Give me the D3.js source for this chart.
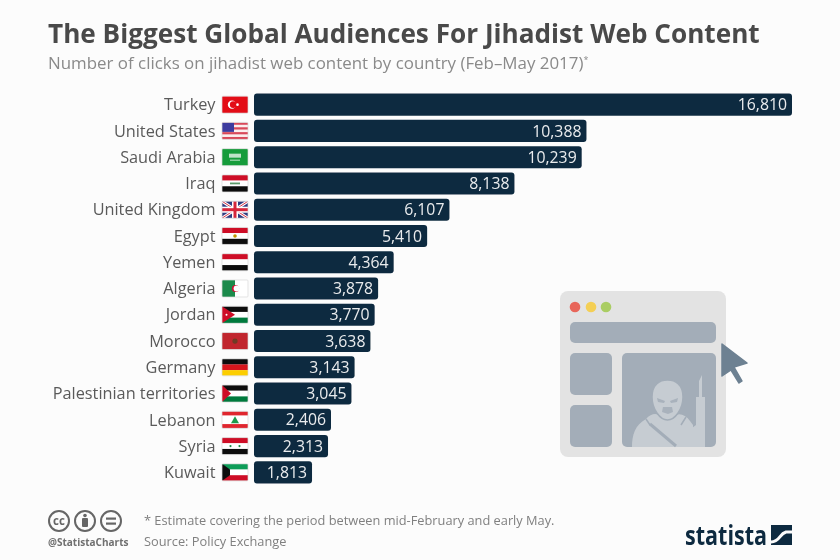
<!DOCTYPE html>
<html><head><meta charset="utf-8">
<script src="https://cdnjs.cloudflare.com/ajax/libs/d3/7.8.5/d3.min.js"></script>
<style>html,body{margin:0;padding:0;background:#fcfcfc}svg{display:block}text{font-family:"Open Sans",sans-serif}</style>
</head><body><svg id="c" width="840" height="560"></svg>
<script>
const countries = ["Turkey","United States","Saudi Arabia","Iraq","United Kingdom","Egypt","Yemen","Algeria","Jordan","Morocco","Germany","Palestinian territories","Lebanon","Syria","Kuwait"];
const clicks = [16810,10388,10239,8138,6107,5410,4364,3878,3770,3638,3143,3045,2406,2313,1813];
const flagCodes = ["TR","US","SA","IQ","GB","EG","YE","DZ","JO","MA","DE","PS","LB","SY","KW"];
const titleText = "The Biggest Global Audiences For Jihadist Web Content";
const subtitleText = "Number of clicks on jihadist web content by country (Feb–May 2017)";

const svg = d3.select("#c");
svg.append("rect").attr("width",840).attr("height",560).attr("fill","#fcfcfc");
const defs = svg.append("defs");
defs.append("filter").attr("id","soft").append("feGaussianBlur").attr("stdDeviation",0.45);

const x = d3.scaleLinear().domain([0,16810]).range([254,792]);
const y = d3.scaleBand().domain(countries).range([91.5,485.5]).paddingInner(0.16).paddingOuter(0.08);

const head = svg.append("g").attr("filter","url(#soft)");
head.append("text").attr("x",48).attr("y",43).attr("font-size",26.17).attr("font-weight",700).attr("fill","#4a4a4a").text(titleText);
const sub = head.append("text").attr("x",48).attr("y",68.5).attr("font-size",16.9).attr("fill","#8a8a8a").text(subtitleText);
sub.append("tspan").attr("font-size",9).attr("dy",-6).text("*");

const root = svg.append("g").attr("filter","url(#soft)");
const rows = root.selectAll("g.row").data(countries).join("g").attr("class","row");
rows.append("text").attr("x",215.5).attr("y",d=>y(d)+y.bandwidth()/2+5.7)
  .attr("text-anchor","end").attr("font-size",16.3).attr("fill","#5a5a5a").text(d=>d);
rows.append("rect").attr("x",x(0)).attr("y",d=>y(d)).attr("height",y.bandwidth())
  .attr("width",(d,i)=>x(clicks[i])-x(0)).attr("rx",3).attr("fill","#112b40");
rows.append("text").attr("x",(d,i)=>x(clicks[i])-5).attr("y",d=>y(d)+y.bandwidth()/2+5.6)
  .attr("text-anchor","end").attr("font-size",15.8).attr("fill","#e9ecee").text((d,i)=>d3.format(",")(clicks[i]));

// flags, in a 26x17 box
const W=26,H=17;
function bands(g,cols){const h=H/cols.length;cols.forEach((c,i)=>g.append("rect").attr("y",i*h).attr("width",W).attr("height",h+.1).attr("fill",c));}
const RED="#ce1126",BLK="#111",WHT="#fff",GRN="#007a3d";
const flagDraw={
 TR(g){bands(g,["#e30a17"]);g.append("circle").attr("cx",10).attr("cy",8.5).attr("r",4.2).attr("fill",WHT);g.append("circle").attr("cx",11.2).attr("cy",8.5).attr("r",3.3).attr("fill","#e30a17");g.append("circle").attr("cx",15.5).attr("cy",8.5).attr("r",1.3).attr("fill",WHT);},
 US(g){bands(g,["#d8495a","#fbeeee","#d8495a","#fbeeee","#d8495a","#fbeeee","#d8495a"]);g.append("rect").attr("width",12).attr("height",9.5).attr("fill","#3c3b9e");},
 SA(g){bands(g,["#159c3a"]);g.append("rect").attr("x",7).attr("y",5).attr("width",12).attr("height",4).attr("fill","#bfe3c8");g.append("rect").attr("x",8).attr("y",11).attr("width",10).attr("height",1).attr("fill","#bfe3c8");},
 IQ(g){bands(g,[RED,WHT,BLK]);g.append("rect").attr("x",8).attr("y",7.6).attr("width",10).attr("height",1.8).attr("fill","#5c9a6a");},
 GB(g){bands(g,["#2f3a80"]);[[0,0,W,H],[W,0,0,H]].forEach(l=>{g.append("line").attr("x1",l[0]).attr("y1",l[1]).attr("x2",l[2]).attr("y2",l[3]).attr("stroke",WHT).attr("stroke-width",3);g.append("line").attr("x1",l[0]).attr("y1",l[1]).attr("x2",l[2]).attr("y2",l[3]).attr("stroke","#d6384a").attr("stroke-width",1);});
  g.append("rect").attr("x",10).attr("width",6).attr("height",H).attr("fill",WHT);g.append("rect").attr("y",5.5).attr("width",W).attr("height",6).attr("fill",WHT);g.append("rect").attr("x",11.5).attr("width",3).attr("height",H).attr("fill","#d6253a");g.append("rect").attr("y",7).attr("width",W).attr("height",3).attr("fill","#d6253a");},
 EG(g){bands(g,[RED,WHT,BLK]);g.append("circle").attr("cx",13).attr("cy",8.5).attr("r",1.8).attr("fill","#c09300");},
 YE(g){bands(g,[RED,WHT,BLK]);},
 DZ(g){g.append("rect").attr("width",W).attr("height",H).attr("fill",WHT);g.append("rect").attr("width",13).attr("height",H).attr("fill","#1f8a4c");g.append("circle").attr("cx",13.5).attr("cy",8.5).attr("r",3.6).attr("fill","#d21034");g.append("circle").attr("cx",14.6).attr("cy",8.5).attr("r",3).attr("fill",WHT);},
 JO(g){bands(g,[BLK,WHT,GRN]);g.append("path").attr("d",`M0 0L13 ${H/2}L0 ${H}Z`).attr("fill",RED);g.append("circle").attr("cx",4.5).attr("cy",8.5).attr("r",1).attr("fill",WHT);},
 MA(g){bands(g,["#c1272d"]);g.append("circle").attr("cx",13).attr("cy",8.5).attr("r",2.6).attr("fill","#6f3a25");},
 DE(g){bands(g,["#111","#d8131a","#fcce00"]);},
 PS(g){bands(g,[BLK,WHT,GRN]);g.append("path").attr("d",`M0 0L9 ${H/2}L0 ${H}Z`).attr("fill",RED);},
 LB(g){bands(g,["#e0252f",WHT,WHT,"#e0252f"]);g.append("path").attr("d","M13 4.8L17 12H9Z").attr("fill","#1f9a4c");},
 SY(g){bands(g,[RED,WHT,BLK]);[8.5,17.5].forEach(c=>g.append("circle").attr("cx",c).attr("cy",8.5).attr("r",1.1).attr("fill","#1a8a44"));},
 KW(g){bands(g,["#0f9d58",WHT,"#ce1126"]);g.append("path").attr("d",`M0 0L8 ${H/3}V${2*H/3}L0 ${H}Z`).attr("fill",BLK);}
};
rows.each(function(d,i){
  const clip="f"+i;
  const top=y(d)+y.bandwidth()/2-8.5;
  defs.append("clipPath").attr("id",clip).append("rect").attr("width",W).attr("height",H).attr("rx",1);
  const outer=d3.select(this).append("g").attr("transform",`translate(222,${top})`);
  const g=outer.append("g").attr("clip-path",`url(#${clip})`);
  flagDraw[flagCodes[i]](g);
  outer.append("rect").attr("width",W).attr("height",H).attr("rx",1).attr("fill","none").attr("stroke","#d8d8d8").attr("stroke-width",0.7);
});

// browser illustration
const ill=svg.append("g").attr("transform","translate(550,285)").attr("filter","url(#soft)");
const P="#a3adb8";
const rr=(X,Y,w,h,r,f)=>ill.append("rect").attr("x",X).attr("y",Y).attr("width",w).attr("height",h).attr("rx",r).attr("fill",f);
rr(10,6,166,166,8,"#e3e3e3");
[[25,"#e8665a"],[41,"#f4cf55"],[56,"#aacd64"]].forEach(a=>ill.append("circle").attr("cx",a[0]).attr("cy",22).attr("r",5.3).attr("fill",a[1]));
rr(20,37,146,21,5,P);
rr(20,68,42,42,5,P);
rr(20,120,42,42,5,P);
rr(72,68,94,94,5,P);
const S="#c6ccd2";
ill.append("path").attr("fill",S).attr("d","M82 162C82 150 85 140 96 134C100 129 106 128 108 130L126 130C130 128 136 130 140 136L143 140V162Z");
ill.append("path").attr("stroke",P).attr("stroke-width",1.5).attr("fill","none").attr("d","M96 134L100 140M136 132L131 140");
ill.append("path").attr("fill",S).attr("stroke",P).attr("stroke-width",1.5).attr("d","M102 112C102 99 110 95 117.500 95C125 95 133 99 133 112C133 124 125 135 117.500 135C110 135 102 124 102 112Z");
ill.append("path").attr("fill",P).attr("opacity",.85).attr("d","M107 113L115 116L114 118L108 117ZM128 113L120 116L121 118L127 117ZM113 122H122L123 127L118 129L112 127Z");
ill.append("path").attr("stroke",P).attr("stroke-width",3).attr("fill","none").attr("d","M100 139L126 161");
ill.append("path").attr("fill",S).attr("d","M149 96L152 90V112H155V128H146V112H149Z");
ill.append("path").attr("fill",S).attr("d","M146 128H155V162H142V143L146 140Z");
ill.append("path").attr("fill","#6d8192").attr("d","M172 59L197 78L184 82L192 96L189 98L181 85L172 91Z").attr("stroke","#6d8192").attr("stroke-width",1.5).attr("stroke-linejoin","round");

// footer
const foot=svg.append("g").attr("filter","url(#soft)");
[["cc",59],["i",85],["=",111]].forEach(a=>{
  foot.append("circle").attr("cx",a[1]).attr("cy",521).attr("r",10).attr("fill","none").attr("stroke","#666").attr("stroke-width",2);
});
foot.append("text").attr("x",59).attr("y",525).attr("text-anchor","middle").attr("font-size",11.5).attr("font-weight",700).attr("fill","#666").text("cc");
foot.append("circle").attr("cx",85).attr("cy",515.5).attr("r",1.8).attr("fill","#666");
foot.append("rect").attr("x",82).attr("y",518).attr("width",6).attr("height",9).attr("rx",1).attr("fill","#666");
foot.append("rect").attr("x",106).attr("y",517.5).attr("width",10).attr("height",2.2).attr("fill","#666");
foot.append("rect").attr("x",106).attr("y",522.5).attr("width",10).attr("height",2.2).attr("fill","#666");
foot.append("text").attr("x",48).attr("y",546).attr("font-size",10).attr("font-weight",700).attr("fill","#707070").text("@StatistaCharts");
foot.append("text").attr("x",144).attr("y",525).attr("font-size",12.8).attr("fill","#808080").text("* Estimate covering the period between mid-February and early May.");
foot.append("text").attr("x",144).attr("y",546).attr("font-size",12.8).attr("fill","#808080").text("Source: Policy Exchange");
foot.append("text").attr("x",685).attr("y",545).attr("font-size",26).attr("font-weight",700).attr("fill","#112b40").attr("textLength",82).attr("lengthAdjust","spacingAndGlyphs").text("statista");
foot.append("rect").attr("x",771).attr("y",525).attr("width",21).attr("height",20).attr("fill","#112b40");
foot.append("path").attr("d","M771 542C780 542 779 534 786 532H792").attr("fill","none").attr("stroke","#fcfcfc").attr("stroke-width",3);
</script></body></html>
